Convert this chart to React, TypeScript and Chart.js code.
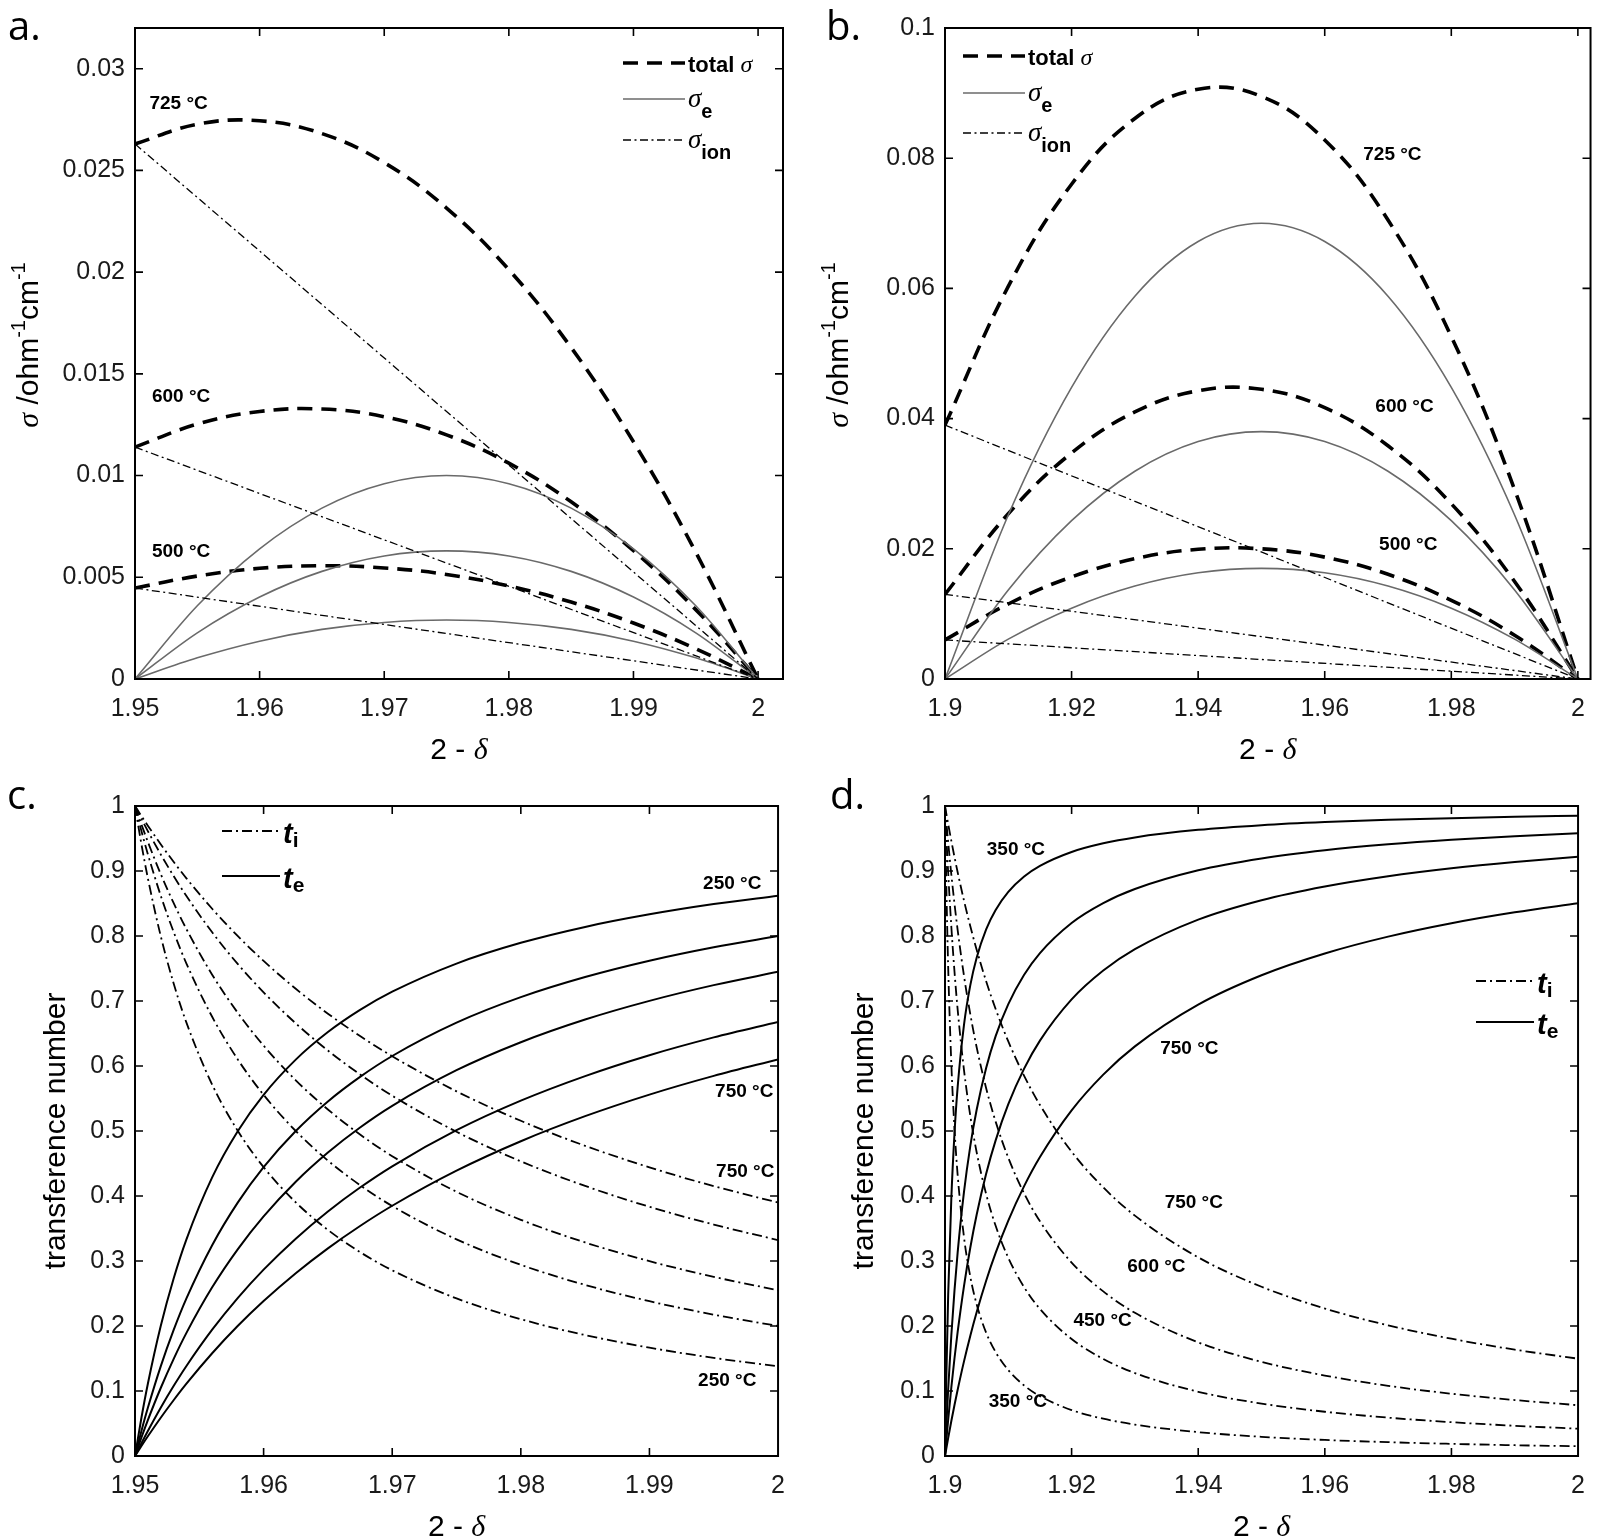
import React, { useEffect, useRef } from "react";
import { Chart, registerables } from "chart.js";

Chart.register(...registerables);

const SANS = '"Liberation Sans", Arial, sans-serif';
const SERIF = '"Liberation Serif", "Times New Roman", serif';
const W = 800;
const H = 769;

// ---------- panel a ----------
const xA = [1.95, 1.955, 1.96, 1.965, 1.97, 1.975, 1.98, 1.985, 1.99, 1.995, 2.0];
const xIonA = [1.95, 2.0];
const totalA725 = [0.0263, 0.02727, 0.02744, 0.02681, 0.02538, 0.02315, 0.02012, 0.01629, 0.01166, 0.00623, 0];
const totalA600 = [0.0114, 0.01253, 0.01315, 0.01327, 0.01289, 0.012, 0.01061, 0.00871, 0.00631, 0.00341, 0];
const totalA500 = [0.00447, 0.00506, 0.00544, 0.00557, 0.00546, 0.00514, 0.00457, 0.00378, 0.00275, 0.00149, 0];
const sigeA725 = [0, 0.0036, 0.0064, 0.0084, 0.0096, 0.01, 0.0096, 0.0084, 0.0064, 0.0036, 0];
const sigeA600 = [0, 0.00227, 0.00403, 0.00529, 0.00605, 0.0063, 0.00605, 0.00529, 0.00403, 0.00227, 0];
const sigeA500 = [0, 0.00104, 0.00186, 0.00244, 0.00278, 0.0029, 0.00278, 0.00244, 0.00186, 0.00104, 0];
const ionA725 = [0.0263, 0];
const ionA600 = [0.0114, 0];
const ionA500 = [0.00447, 0];
const xTicksA = [1.95, 1.96, 1.97, 1.98, 1.99, 2];
const yTicksA = [0, 0.005, 0.01, 0.015, 0.02, 0.025, 0.03];

// ---------- panel b ----------
const xB = [1.9, 1.91, 1.92, 1.93, 1.94, 1.95, 1.96, 1.97, 1.98, 1.99, 2.0];
const xIonB = [1.9, 2.0];
const totalB725 = [0.039, 0.0603, 0.076, 0.0861, 0.0906, 0.0895, 0.0828, 0.0705, 0.0526, 0.0291, 0];
const totalB600 = [0.013, 0.02538, 0.03472, 0.04102, 0.04428, 0.0445, 0.04168, 0.03582, 0.02692, 0.01498, 0];
const totalB500 = [0.006, 0.01152, 0.01568, 0.01848, 0.01992, 0.02, 0.01872, 0.01608, 0.01208, 0.00672, 0];
const sigeB725 = [0, 0.0252, 0.0448, 0.0588, 0.0672, 0.07, 0.0672, 0.0588, 0.0448, 0.0252, 0];
const sigeB600 = [0, 0.01368, 0.02432, 0.03192, 0.03648, 0.038, 0.03648, 0.03192, 0.02432, 0.01368, 0];
const sigeB500 = [0, 0.00612, 0.01088, 0.01428, 0.01632, 0.017, 0.01632, 0.01428, 0.01088, 0.00612, 0];
const ionB725 = [0.039, 0];
const ionB600 = [0.013, 0];
const ionB500 = [0.006, 0];
const xTicksB = [1.9, 1.92, 1.94, 1.96, 1.98, 2];
const yTicksB = [0, 0.02, 0.04, 0.06, 0.08, 0.1];

// ---------- panel c ----------
const xC = [1.95, 1.9505, 1.951, 1.952, 1.953, 1.954, 1.956, 1.958, 1.96, 1.9625, 1.965, 1.9675, 1.97, 1.975, 1.98, 1.985, 1.99, 1.995, 2.0];
const teC250 = [0, 0.0588, 0.1111, 0.2, 0.2727, 0.3333, 0.4286, 0.5, 0.5556, 0.6098, 0.6522, 0.6863, 0.7143, 0.7576, 0.7895, 0.814, 0.8333, 0.8491, 0.8621];
const teC400 = [0, 0.0385, 0.0741, 0.1379, 0.1935, 0.2424, 0.3243, 0.3902, 0.4444, 0.5, 0.5455, 0.5833, 0.6154, 0.6667, 0.7059, 0.7368, 0.7619, 0.7826, 0.8];
const teC500 = [0, 0.0284, 0.0552, 0.1046, 0.1491, 0.1894, 0.2595, 0.3184, 0.3687, 0.422, 0.4669, 0.5054, 0.5387, 0.5935, 0.6366, 0.6715, 0.7002, 0.7244, 0.7449];
const teC650 = [0, 0.0197, 0.0386, 0.0744, 0.1076, 0.1385, 0.1943, 0.2433, 0.2867, 0.3344, 0.3762, 0.413, 0.4457, 0.5012, 0.5467, 0.5845, 0.6166, 0.644, 0.6678];
const teC750 = [0, 0.0154, 0.0303, 0.0589, 0.0858, 0.1113, 0.1581, 0.2003, 0.2384, 0.2812, 0.3195, 0.3539, 0.385, 0.439, 0.4843, 0.5228, 0.556, 0.5848, 0.6101];
const tiC250 = [1, 0.9412, 0.8889, 0.8, 0.7273, 0.6667, 0.5714, 0.5, 0.4444, 0.3902, 0.3478, 0.3137, 0.2857, 0.2424, 0.2105, 0.186, 0.1667, 0.1509, 0.1379];
const tiC400 = [1, 0.9615, 0.9259, 0.8621, 0.8065, 0.7576, 0.6757, 0.6098, 0.5556, 0.5, 0.4545, 0.4167, 0.3846, 0.3333, 0.2941, 0.2632, 0.2381, 0.2174, 0.2];
const tiC500 = [1, 0.9716, 0.9448, 0.8954, 0.8509, 0.8106, 0.7405, 0.6816, 0.6313, 0.578, 0.5331, 0.4946, 0.4613, 0.4065, 0.3634, 0.3285, 0.2998, 0.2756, 0.2551];
const tiC650 = [1, 0.9803, 0.9614, 0.9256, 0.8924, 0.8615, 0.8057, 0.7567, 0.7133, 0.6656, 0.6238, 0.587, 0.5543, 0.4988, 0.4533, 0.4155, 0.3834, 0.356, 0.3322];
const tiC750 = [1, 0.9846, 0.9697, 0.9411, 0.9142, 0.8887, 0.8419, 0.7997, 0.7616, 0.7188, 0.6805, 0.6461, 0.615, 0.561, 0.5157, 0.4772, 0.444, 0.4152, 0.3899];
const xTicksC = [1.95, 1.96, 1.97, 1.98, 1.99, 2];
const yTicksT = [0, 0.1, 0.2, 0.3, 0.4, 0.5, 0.6, 0.7, 0.8, 0.9, 1];

// ---------- panel d ----------
const xD = [1.9, 1.9002, 1.9005, 1.901, 1.9015, 1.902, 1.903, 1.904, 1.905, 1.9065, 1.908, 1.91, 1.9125, 1.915, 1.92, 1.925, 1.93, 1.94, 1.95, 1.96, 1.97, 1.98, 1.99, 2.0];
const teD350 = [0, 0.1161, 0.2473, 0.3965, 0.4964, 0.5678, 0.6634, 0.7244, 0.7666, 0.8103, 0.8401, 0.8679, 0.8915, 0.9079, 0.9293, 0.9426, 0.9517, 0.9633, 0.9705, 0.9753, 0.9787, 0.9813, 0.9834, 0.985];
const teD450 = [0, 0.0436, 0.1023, 0.1857, 0.2548, 0.3132, 0.4062, 0.477, 0.5327, 0.5971, 0.6459, 0.6951, 0.7403, 0.7738, 0.8201, 0.8507, 0.8724, 0.9012, 0.9194, 0.9319, 0.941, 0.948, 0.9535, 0.958];
const teD600 = [0, 0.0231, 0.0557, 0.1056, 0.1504, 0.1909, 0.2615, 0.3207, 0.3711, 0.4341, 0.4856, 0.5413, 0.596, 0.639, 0.7024, 0.7468, 0.7797, 0.8252, 0.8551, 0.8762, 0.892, 0.9042, 0.9139, 0.9219];
const teD750 = [0, 0.0112, 0.0276, 0.0538, 0.0785, 0.102, 0.1456, 0.1851, 0.2212, 0.2697, 0.3124, 0.3622, 0.4152, 0.46, 0.5318, 0.5868, 0.6302, 0.6944, 0.7396, 0.7731, 0.799, 0.8196, 0.8364, 0.8503];
const tiD350 = [1, 0.8839, 0.7527, 0.6035, 0.5036, 0.4322, 0.3366, 0.2756, 0.2334, 0.1897, 0.1599, 0.1321, 0.1085, 0.0921, 0.0707, 0.0574, 0.0483, 0.0367, 0.0295, 0.0247, 0.0213, 0.0187, 0.0166, 0.015];
const tiD450 = [1, 0.9564, 0.8977, 0.8143, 0.7452, 0.6868, 0.5938, 0.523, 0.4673, 0.4029, 0.3541, 0.3049, 0.2597, 0.2262, 0.1799, 0.1493, 0.1276, 0.0988, 0.0806, 0.0681, 0.059, 0.052, 0.0465, 0.042];
const tiD600 = [1, 0.9769, 0.9443, 0.8945, 0.8496, 0.8091, 0.7386, 0.6794, 0.6289, 0.5659, 0.5144, 0.4587, 0.404, 0.361, 0.2976, 0.2532, 0.2203, 0.1748, 0.1449, 0.1238, 0.108, 0.0958, 0.0861, 0.0781];
const tiD750 = [1, 0.9888, 0.9724, 0.9463, 0.9215, 0.898, 0.8544, 0.8149, 0.7788, 0.7304, 0.6876, 0.6378, 0.5848, 0.54, 0.4682, 0.4132, 0.3698, 0.3056, 0.2604, 0.2269, 0.201, 0.1804, 0.1636, 0.1497];
const xTicksD = [1.9, 1.92, 1.94, 1.96, 1.98, 2];

// ---------- styles ----------
const TOTAL = { borderColor: "#000", borderWidth: 3.6, borderDash: [15, 9], tension: 0.4 };
const SIGE = { borderColor: "#6a6a6a", borderWidth: 1.6, cubicInterpolationMode: "monotone" };
const ION = { borderColor: "#000", borderWidth: 1.3, borderDash: [8, 3.5, 2, 3.5] };
const TE = { borderColor: "#000", borderWidth: 2, cubicInterpolationMode: "monotone" };
const TI = { borderColor: "#000", borderWidth: 1.8, borderDash: [10, 4, 2, 4], cubicInterpolationMode: "monotone" };

const pts = (xs, ys) => xs.map((x, i) => ({ x, y: ys[i] }));
const fmt = (v) => String(Number(Number(v).toFixed(4)));

type Part = { t: string; font: string; dy?: number };

function drawParts(ctx, x, y, parts: Part[], center = false) {
  let w = 0;
  for (const p of parts) {
    ctx.font = p.font;
    w += ctx.measureText(p.t).width;
  }
  let cx = center ? x - w / 2 : x;
  for (const p of parts) {
    ctx.font = p.font;
    ctx.fillText(p.t, cx, y + (p.dy || 0));
    cx += ctx.measureText(p.t).width;
  }
}

const sigma = (size) => ({ t: "σ", font: `italic ${size}px ${SERIF}` });
const yTitleSigma: Part[] = [
  sigma(30),
  { t: " /ohm", font: `30px ${SANS}` },
  { t: "-1", font: `20px ${SANS}`, dy: -13 },
  { t: "cm", font: `30px ${SANS}` },
  { t: "-1", font: `20px ${SANS}`, dy: -13 },
];
const yTitleT: Part[] = [{ t: "transference number", font: `30px ${SANS}` }];
const xTitle: Part[] = [
  { t: "2 - ", font: `30px ${SANS}` },
  { t: "δ", font: `italic 30px ${SERIF}` },
];

const legendSigma = (x0, y0, y1, y2) => [
  { y: y0, x0, x1: x0 + 62, style: TOTAL, parts: [{ t: "total ", font: `bold 22px ${SANS}`, dy: 9 }, { ...sigma(24), dy: 9 }] },
  { y: y1, x0, x1: x0 + 62, style: SIGE, parts: [{ ...sigma(27), dy: 8 }, { t: "e", font: `bold 20px ${SANS}`, dy: 19 }] },
  { y: y2, x0, x1: x0 + 62, style: ION, parts: [{ ...sigma(27), dy: 8 }, { t: "ion", font: `bold 20px ${SANS}`, dy: 19 }] },
];
const legendT = (x0, y0, y1) => [
  { y: y0, x0, x1: x0 + 58, style: TI, parts: [{ t: "t", font: `italic bold 29px ${SANS}`, dy: 12 }, { t: "i", font: `bold 21px ${SANS}`, dy: 16 }] },
  { y: y1, x0, x1: x0 + 58, style: TE, parts: [{ t: "t", font: `italic bold 29px ${SANS}`, dy: 12 }, { t: "e", font: `bold 21px ${SANS}`, dy: 16 }] },
];

function decorPlugin(spec) {
  return {
    id: "decor",
    afterDraw(chart) {
      const { ctx, chartArea: a, scales } = chart;
      ctx.save();
      ctx.strokeStyle = "#000";
      ctx.fillStyle = "#000";
      ctx.setLineDash([]);
      // inner ticks
      ctx.lineWidth = 1.6;
      const tl = 8;
      ctx.beginPath();
      for (const t of scales.x.ticks) {
        const px = scales.x.getPixelForValue(t.value);
        if (px <= a.left + 1 || px >= a.right - 1) continue;
        ctx.moveTo(px, a.bottom);
        ctx.lineTo(px, a.bottom - tl);
        ctx.moveTo(px, a.top);
        ctx.lineTo(px, a.top + tl);
      }
      for (const t of scales.y.ticks) {
        const py = scales.y.getPixelForValue(t.value);
        if (py <= a.top + 1 || py >= a.bottom - 1) continue;
        ctx.moveTo(a.left, py);
        ctx.lineTo(a.left + tl, py);
        ctx.moveTo(a.right, py);
        ctx.lineTo(a.right - tl, py);
      }
      ctx.stroke();
      // box
      ctx.lineWidth = 2;
      ctx.strokeRect(a.left, a.top, a.right - a.left, a.bottom - a.top);

      // legend
      for (const item of spec.legend) {
        ctx.beginPath();
        ctx.strokeStyle = item.style.borderColor;
        ctx.lineWidth = item.style.borderWidth;
        ctx.setLineDash(item.style.borderDash || []);
        ctx.moveTo(item.x0, item.y);
        ctx.lineTo(item.x1, item.y);
        ctx.stroke();
        ctx.setLineDash([]);
        ctx.fillStyle = "#000";
        ctx.textBaseline = "alphabetic";
        drawParts(ctx, item.x1 + 3, item.y, item.parts);
      }

      // temperature notes, anchored in data space
      ctx.font = `bold 19px ${SANS}`;
      ctx.textAlign = "center";
      ctx.textBaseline = "middle";
      for (const n of spec.notes) {
        ctx.fillText(n.text, scales.x.getPixelForValue(n.x), scales.y.getPixelForValue(n.y));
      }
      ctx.textAlign = "left";
      ctx.textBaseline = "alphabetic";

      // axis titles
      drawParts(ctx, (a.left + a.right) / 2, a.bottom + 80, xTitle, true);
      ctx.save();
      ctx.translate(spec.yTitleX, spec.yTitleY ?? (a.top + a.bottom) / 2);
      ctx.rotate(-Math.PI / 2);
      drawParts(ctx, 0, 10, spec.yTitle, true);
      ctx.restore();

      // panel letter
      ctx.font = `40px "Open Sans", "Noto Sans", sans-serif`;
      ctx.fillText(spec.letter, spec.letterX, 40);
      ctx.restore();
    },
  };
}

function makeConfig(spec) {
  const tickFont = { family: SANS, size: 25 };
  return {
    type: "line",
    data: { datasets: spec.datasets.map((d) => ({ pointRadius: 0, fill: false, borderCapStyle: "butt", ...d })) },
    options: {
      responsive: false,
      animation: false,
      layout: { padding: { left: 0, top: spec.area.top, right: W - spec.area.right, bottom: 0 } },
      plugins: { legend: { display: false }, tooltip: { enabled: false } },
      scales: {
        x: {
          type: "linear",
          min: spec.xMin,
          max: spec.xMax,
          grid: { display: false, drawTicks: false },
          border: { display: false },
          afterBuildTicks: (s) => {
            s.ticks = spec.xTicks.map((v) => ({ value: v }));
          },
          afterFit: (s) => {
            s.height = H - spec.area.bottom;
          },
          ticks: { font: tickFont, color: "#1a1a1a", padding: 15, maxRotation: 0, autoSkip: false, callback: fmt },
        },
        y: {
          type: "linear",
          min: spec.yMin,
          max: spec.yMax,
          grid: { display: false, drawTicks: false },
          border: { display: false },
          afterBuildTicks: (s) => {
            s.ticks = spec.yTicks.map((v) => ({ value: v }));
          },
          afterFit: (s) => {
            s.width = spec.area.left;
          },
          ticks: { font: tickFont, color: "#1a1a1a", padding: 10, autoSkip: false, callback: fmt },
        },
      },
    },
    plugins: [decorPlugin(spec)],
  };
}

const specA = {
  area: { left: 135, top: 28, right: 783, bottom: 679 },
  xMin: 1.95, xMax: 2.002, yMin: 0, yMax: 0.032, xTicks: xTicksA, yTicks: yTicksA,
  datasets: [
    { data: pts(xIonA, ionA725), ...ION },
    { data: pts(xIonA, ionA600), ...ION },
    { data: pts(xIonA, ionA500), ...ION },
    { data: pts(xA, sigeA725), ...SIGE },
    { data: pts(xA, sigeA600), ...SIGE },
    { data: pts(xA, sigeA500), ...SIGE },
    { data: pts(xA, totalA725), ...TOTAL },
    { data: pts(xA, totalA600), ...TOTAL },
    { data: pts(xA, totalA500), ...TOTAL },
  ],
  legend: legendSigma(623, 63, 99, 140),
  notes: [
    { text: "725 °C", x: 1.9535, y: 0.0283 },
    { text: "600 °C", x: 1.9537, y: 0.01386 },
    { text: "500 °C", x: 1.9537, y: 0.00624 },
  ],
  yTitle: yTitleSigma, yTitleX: 28, yTitleY: 345,
  letter: "a.", letterX: 8,
};

const specB = {
  area: { left: 145, top: 28, right: 791, bottom: 679 },
  xMin: 1.9, xMax: 2.002, yMin: 0, yMax: 0.1, xTicks: xTicksB, yTicks: yTicksB,
  datasets: [
    { data: pts(xIonB, ionB725), ...ION },
    { data: pts(xIonB, ionB600), ...ION },
    { data: pts(xIonB, ionB500), ...ION },
    { data: pts(xB, sigeB725), ...SIGE },
    { data: pts(xB, sigeB600), ...SIGE },
    { data: pts(xB, sigeB500), ...SIGE },
    { data: pts(xB, totalB725), ...TOTAL },
    { data: pts(xB, totalB600), ...TOTAL },
    { data: pts(xB, totalB500), ...TOTAL },
  ],
  legend: legendSigma(163, 56, 93, 133),
  notes: [
    { text: "725 °C", x: 1.9707, y: 0.0806 },
    { text: "600 °C", x: 1.9726, y: 0.0418 },
    { text: "500 °C", x: 1.9732, y: 0.0206 },
  ],
  yTitle: yTitleSigma, yTitleX: 38, yTitleY: 345,
  letter: "b.", letterX: 26,
};

const specC = {
  area: { left: 135, top: 37, right: 781, bottom: 687 },
  xMin: 1.95, xMax: 2, yMin: 0, yMax: 1, xTicks: xTicksC, yTicks: yTicksT,
  datasets: [
    { data: pts(xC, tiC250), ...TI },
    { data: pts(xC, tiC400), ...TI },
    { data: pts(xC, tiC500), ...TI },
    { data: pts(xC, tiC650), ...TI },
    { data: pts(xC, tiC750), ...TI },
    { data: pts(xC, teC250), ...TE },
    { data: pts(xC, teC400), ...TE },
    { data: pts(xC, teC500), ...TE },
    { data: pts(xC, teC650), ...TE },
    { data: pts(xC, teC750), ...TE },
  ],
  legend: legendT(222, 62, 107),
  notes: [
    { text: "250 °C", x: 1.99644, y: 0.88 },
    { text: "750 °C", x: 1.99737, y: 0.56 },
    { text: "750 °C", x: 1.99745, y: 0.437 },
    { text: "250 °C", x: 1.99605, y: 0.116 },
  ],
  yTitle: yTitleT, yTitleX: 55,
  letter: "c.", letterX: 7,
};

const specD = {
  area: { left: 145, top: 37, right: 791, bottom: 687 },
  xMin: 1.9, xMax: 2, yMin: 0, yMax: 1, xTicks: xTicksD, yTicks: yTicksT,
  datasets: [
    { data: pts(xD, tiD350), ...TI },
    { data: pts(xD, tiD450), ...TI },
    { data: pts(xD, tiD600), ...TI },
    { data: pts(xD, tiD750), ...TI },
    { data: pts(xD, teD350), ...TE },
    { data: pts(xD, teD450), ...TE },
    { data: pts(xD, teD600), ...TE },
    { data: pts(xD, teD750), ...TE },
  ],
  legend: legendT(676, 212, 253),
  notes: [
    { text: "350 °C", x: 1.9112, y: 0.932 },
    { text: "750 °C", x: 1.9386, y: 0.626 },
    { text: "750 °C", x: 1.9393, y: 0.389 },
    { text: "600 °C", x: 1.9334, y: 0.291 },
    { text: "450 °C", x: 1.9249, y: 0.208 },
    { text: "350 °C", x: 1.9115, y: 0.083 },
  ],
  yTitle: yTitleT, yTitleX: 63,
  letter: "d.", letterX: 30,
};

function Panel({ spec, left, top }) {
  const ref = useRef<HTMLCanvasElement>(null);
  useEffect(() => {
    const chart = new Chart(ref.current as HTMLCanvasElement, makeConfig(spec) as any);
    return () => {
      chart.destroy();
    };
  }, [spec]);
  return (
    <canvas
      ref={ref}
      width={W}
      height={H}
      style={{ position: "absolute", left, top, width: W, height: H }}
    />
  );
}

export default function App() {
  return (
    <div style={{ position: "absolute", left: 0, top: 0, width: 1600, height: 1538, background: "#fff" }}>
      <Panel spec={specA} left={0} top={0} />
      <Panel spec={specB} left={800} top={0} />
      <Panel spec={specC} left={0} top={769} />
      <Panel spec={specD} left={800} top={769} />
    </div>
  );
}
